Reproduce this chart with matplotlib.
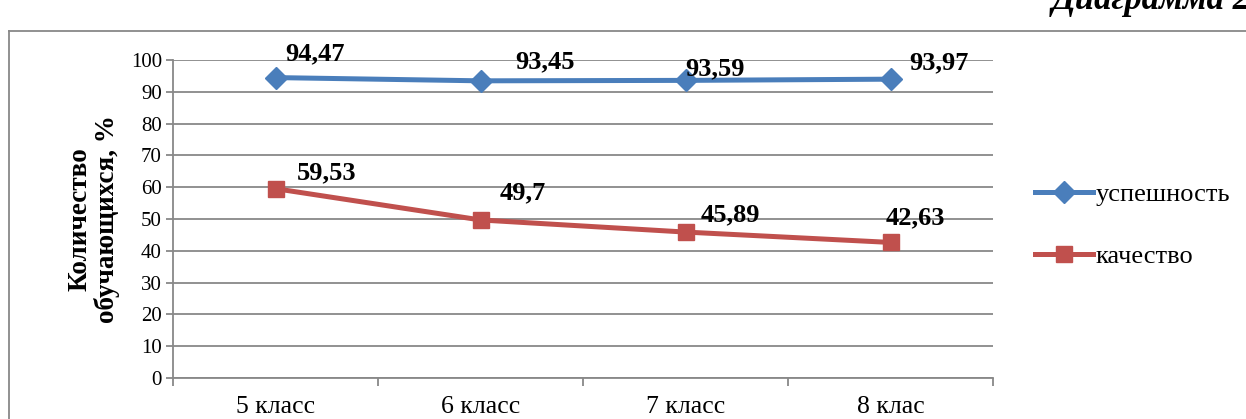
import matplotlib
matplotlib.use('Agg')
import matplotlib.pyplot as plt
from matplotlib.lines import Line2D

classes = ['5 класс', '6 класс', '7 класс', '8 клас']
uspeh = [94.47, 93.45, 93.59, 93.97]
kachestvo = [59.53, 49.7, 45.89, 42.63]
uspeh_labels = ['94,47', '93,45', '93,59', '93,97']
kach_labels = ['59,53', '49,7', '45,89', '42,63']

plt.rcParams['font.family'] = ['Liberation Serif', 'DejaVu Serif']

blue = '#4A7EBB'
red = '#C0504D'
grey = '#888888'

fig = plt.figure(figsize=(12.46, 4.19), dpi=100)
ax = fig.add_axes([173/1246, 41/419, 820/1246, 318/419])

x = [i + 0.5 for i in range(len(classes))]
ax.plot(x, uspeh, color=blue, lw=3.6, marker='D', ms=11, label='успешность', zorder=3)
ax.plot(x, kachestvo, color=red, lw=3.6, marker='s', ms=11, label='качество', zorder=3)

# label offsets in pixels
off_u = [(40, 24), (65, 19), (30, 12), (48, 16)]
off_k = [(51, 16), (42, 27), (45, 17), (25, 25)]
for xi, v, t, o in zip(x, uspeh, uspeh_labels, off_u):
    ax.annotate(t, (xi, v), xytext=o, textcoords='offset pixels',
                ha='center', va='center', fontsize=19, fontweight='bold')
for xi, v, t, o in zip(x, kachestvo, kach_labels, off_k):
    ax.annotate(t, (xi, v), xytext=o, textcoords='offset pixels',
                ha='center', va='center', fontsize=19, fontweight='bold')

ax.set_xlim(0, 4)
ax.set_ylim(0, 100)
ax.set_yticks(range(0, 101, 10))
ax.yaxis.grid(True, color=grey, lw=1.3)
ax.set_axisbelow(True)
ax.set_xticks(range(0, 5))
ax.set_xticklabels([])
ax.set_xticks(x, minor=True)
ax.set_xticklabels(classes, minor=True, fontsize=18.5)
ax.tick_params(axis='x', which='minor', length=0, pad=13)
ax.tick_params(axis='x', which='major', length=6, color=grey, width=1.3)
ax.tick_params(axis='y', length=5, color=grey, width=1.3, labelsize=15, pad=3)
for s in ['top', 'right']:
    ax.spines[s].set_visible(False)
for s in ['left', 'bottom']:
    ax.spines[s].set_color(grey)
    ax.spines[s].set_linewidth(1.3)

ax.set_ylabel('Количество\nобучающихся, %', fontsize=19.5, fontweight='bold',
              labelpad=8, linespacing=1.05)

ax.legend(loc='center left', bbox_to_anchor=(1.022, 0.48), frameon=False, fontsize=19,
          handlelength=2.2, handletextpad=0.1, labelspacing=1.45)

# frame and clipped caption
fig.add_artist(Line2D([9/1246, 1], [1 - 31/419, 1 - 31/419], color=grey, lw=1.3))
fig.add_artist(Line2D([9/1246, 9/1246], [0, 1 - 31/419], color=grey, lw=1.3))
fig.text(1052/1246, 1 - 9/419, 'Диаграмма 2', fontsize=25, fontweight='bold',
         fontstyle='italic', ha='left', va='baseline')

fig.savefig('out.png', dpi=100)
